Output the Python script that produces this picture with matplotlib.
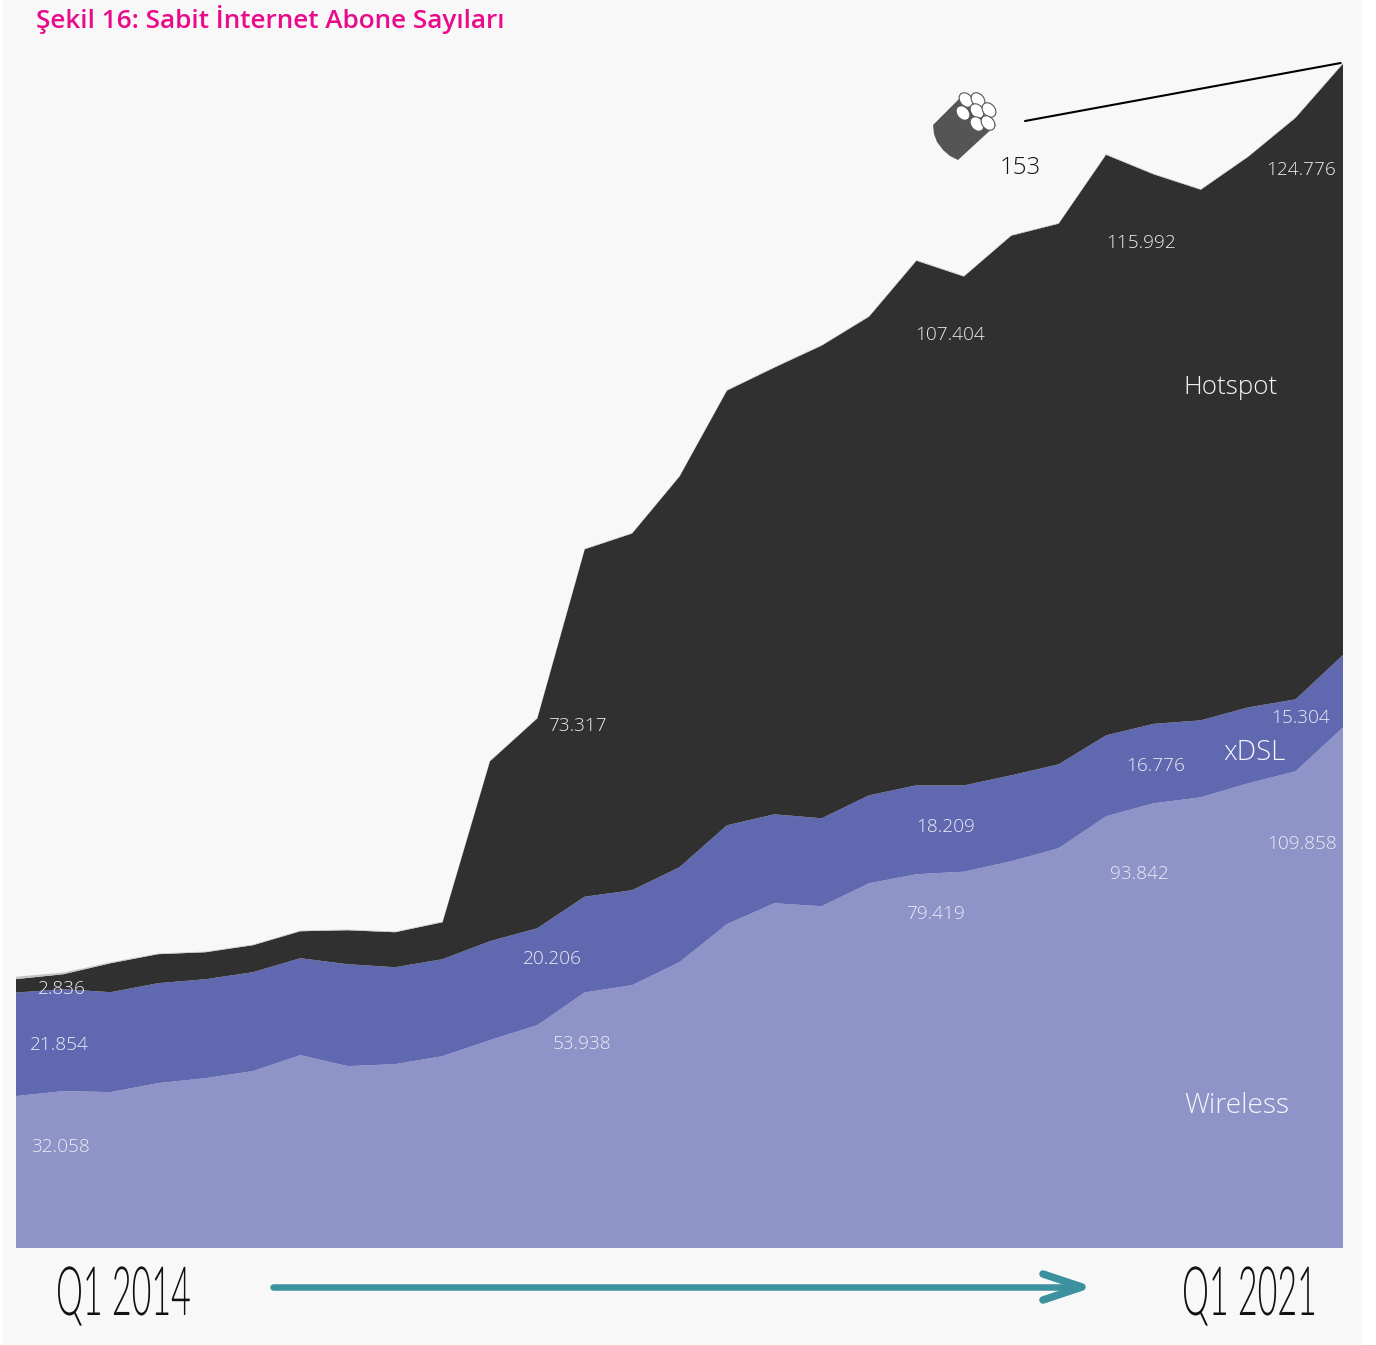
import matplotlib
matplotlib.use("Agg")
import matplotlib.pyplot as plt
import matplotlib.patheffects as pe
from matplotlib.patches import Rectangle, Polygon, Ellipse
from matplotlib.lines import Line2D
from matplotlib.transforms import Affine2D

W, H = 1376, 1345

quarters = list(range(29))
wireless = [32058, 33111, 32900, 34800, 35850, 37330, 40700, 38380, 38800, 40490,
            43870, 47030, 53938, 55470, 60320, 68330, 72760, 72130, 76980, 78880,
            79419, 81620, 84360, 91110, 93842, 95120, 98070, 100600, 109858]
xdsl = [21854, 21510, 21090, 21090, 20880, 20880, 20460, 21510, 20460, 20460,
        20880, 20460, 20206, 20040, 20040, 20880, 18770, 18560, 18560, 18770,
        18209, 18140, 17720, 17080, 16776, 16240, 16030, 15190, 15304]
hotspot = [2836, 3160, 6120, 6120, 5690, 5690, 5690, 7170, 7380, 7800,
           37960, 44290, 73317, 75290, 82460, 91740, 94270, 99760, 101020, 110720,
           107404, 113890, 114100, 122530, 115992, 111990, 116200, 122740, 124776]
fiber = [500, 350, 200, 150, 150, 150, 150, 150, 150, 150,
         150, 150, 150, 150, 150, 150, 150, 150, 150, 150,
         150, 150, 150, 150, 150, 150, 150, 150, 153]

colors = ["#8E93C8", "#6068B0", "#303030", "#C4C4C4"]

value_labels = ["2.836", "21.854", "32.058", "20.206", "53.938", "73.317", "18.209", "79.419",
                "107.404", "16.776", "93.842", "115.992", "15.304", "109.858", "124.776"]
value_pos = [(62, 989), (59, 1045), (61, 1147), (552, 959), (582, 1044), (577, 726), (946, 827),
             (935, 914), (950, 335), (1156, 766), (1139, 874), (1141, 243), (1301, 718),
             (1302, 844), (1301, 170)]
series_labels = ["Hotspot", "xDSL", "Wireless"]
series_pos = [(1230, 387), (1254, 753), (1237, 1106)]
series_sizes = [26, 27.5, 28]

LIGHT = "Open Sans"
LIGHT_W = 300
fig = plt.figure(figsize=(W / 100, H / 100), dpi=100, facecolor="white")
px = Affine2D().scale(1, -1).translate(0, H)   # pixel coordinates, y downward


def P(pt):
    return pt * 0.72


fig.add_artist(Rectangle((2, 0), 1360, H, transform=px, fc="#F8F8F8", ec="none", zorder=-5))

ax = fig.add_axes([16 / W, (H - 1248) / H, (1343 - 16) / W, 1248 / H])
ax.set_xlim(0, 28)
ax.set_ylim(0, 1248 * 211.05)
ax.axis("off")
ax.stackplot(quarters, wireless, xdsl, hotspot, fiber, colors=colors, linewidth=0)

for s, (x, y) in zip(value_labels, value_pos):
    fig.text(x, y, s, transform=px, ha="center", va="center", family=LIGHT, weight=LIGHT_W,
             fontsize=P(19), color="#ECEDF6", zorder=5)
for s, (x, y), fs in zip(series_labels, series_pos, series_sizes):
    fig.text(x, y, s, transform=px, ha="center", va="center", family=LIGHT, weight=LIGHT_W,
             fontsize=P(fs), color="#F6F6FA", zorder=5)

fig.text(36, 20, "Şekil 16: Sabit İnternet Abone Sayıları", transform=px, ha="left", va="center",
         family="Open Sans", weight=600, fontsize=P(26.1), color="#EA0A8C")
fig.text(1020, 168, "153", transform=px, ha="center", va="center", family=LIGHT, weight=LIGHT_W,
         fontsize=P(24), color="#111111")

# leader line from the fibre label to the top of the stack
total_last = wireless[-1] + xdsl[-1] + hotspot[-1] + fiber[-1]
ax.annotate("", xy=(quarters[-1] - 0.05, total_last), xycoords="data",
            xytext=(1025, 121), textcoords=px,
            arrowprops=dict(arrowstyle="-", color="black", lw=1.5, shrinkA=0, shrinkB=0),
            annotation_clip=False)


class Stretch(pe.AbstractPathEffect):
    """Scales the glyph outlines about the text's anchor, to imitate a condensed face."""

    def __init__(self, x0, y0, sx, sy):
        super().__init__()
        self.x0, self.y0, self.sx, self.sy = x0, y0, sx, sy

    def draw_path(self, renderer, gc, tpath, affine, rgbFace=None):
        a = affine + (Affine2D().translate(-self.x0, -self.y0)
                      .scale(self.sx, self.sy).translate(self.x0, self.y0))
        renderer.draw_path(gc, tpath, a, rgbFace)


for s, x0 in [("Q1 2014", 56), ("Q1 2021", 1182)]:
    fig.text(x0, 1315, s, transform=px, ha="left", va="baseline",
             family="Lato", weight=300, fontsize=P(45), color="#111111",
             path_effects=[Stretch(x0, H - 1315, 0.756, 1.511)])

# time arrow
teal = "#3B929E"
fig.add_artist(Line2D([273, 1080], [1287, 1287], transform=px, color=teal, lw=P(6.5),
                      solid_capstyle="round"))
fig.add_artist(Line2D([1043, 1082, 1043], [1274, 1287, 1300], transform=px, color=teal, lw=P(7.5),
                      solid_capstyle="round", solid_joinstyle="round"))

# fibre bundle icon
fig.add_artist(Polygon([(933, 125), (962, 96), (996, 125), (958, 160), (950, 156), (943, 150),
                        (937, 142), (934, 134)],
                       closed=True, transform=px, fc="#555555", ec="none"))
for cx, cy in [(966, 100), (978, 100), (963, 113), (977, 111), (989, 110), (977, 124), (988, 123)]:
    fig.add_artist(Ellipse((cx, cy), 12, 16, angle=-40, transform=px, fc="white", ec="#555555", lw=0.8))

fig.savefig("out.png", dpi=100, facecolor=fig.get_facecolor())
